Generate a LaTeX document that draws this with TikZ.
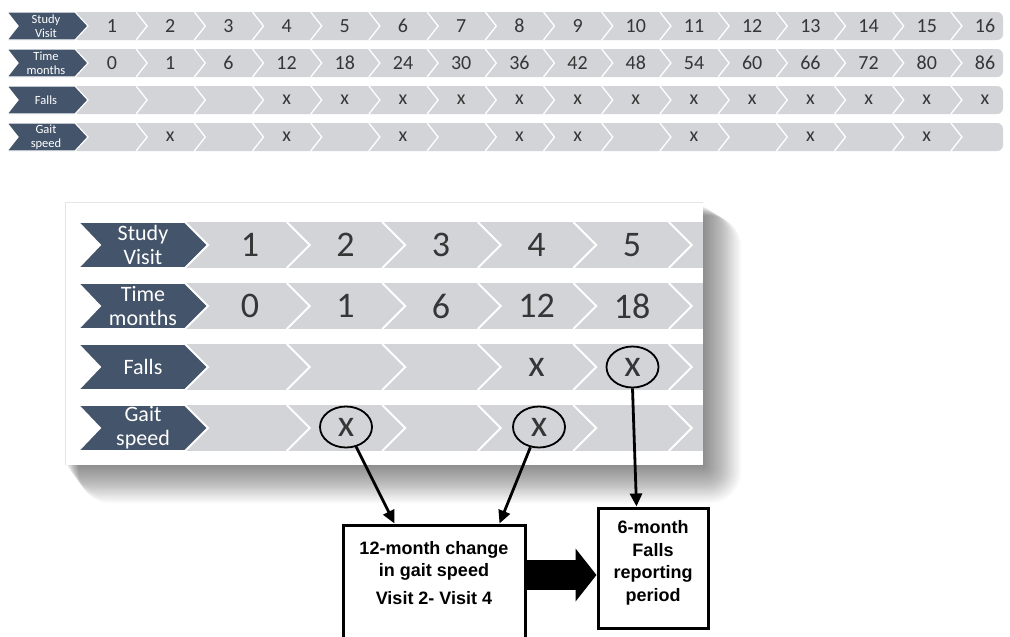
\documentclass[tikz,border=0pt]{standalone}
\usepackage{fontspec}
\setmainfont{Carlito}
\newfontfamily\boxfont{Liberation Sans}
\usetikzlibrary{shapes.geometric,arrows.meta}
\definecolor{navy}{HTML}{44546A}
\definecolor{band}{HTML}{D2D4D8}
\definecolor{numc}{HTML}{363636}
\tikzset{
  labshape/.style={fill=navy, draw=white, line width=1.2pt, line join=miter},
  sepline/.style={draw=white, line width=1.3pt},
  labtop/.style={text=white, font=\fontsize{12.5}{13.5}\selectfont, align=center, inner sep=0pt},
  labbig/.style={text=white, font=\fontsize{22}{24}\selectfont, align=center, inner sep=0pt},
  numtop/.style={text=numc, font=\fontsize{20}{24}\selectfont, inner sep=0pt},
  numbig/.style={text=numc, font=\fontsize{36}{40}\selectfont, inner sep=0pt},
  xbig/.style={text=numc, font=\fontsize{38}{40}\selectfont, inner sep=0pt},
  ring/.style={xbig, ellipse, draw=black, line width=1.8pt, minimum width=52pt, minimum height=41pt},
  conn/.style={draw=black, line width=2.8pt, -{Triangle[length=13pt,width=12pt]}},
  outbox/.style={draw=black, line width=3pt, fill=white, inner sep=0pt},
  boxtxt/.style={font=\boxfont\bfseries\fontsize{18}{22.5}\selectfont, align=center, inner sep=0pt},
}
\begin{document}
\begin{tikzpicture}[x=1pt,y=-1pt]
\useasboundingbox (0,0) rectangle (1010,637);
\clip (0,0) rectangle (1010,637);
\fill[white] (0,0) rectangle (1010,637);

% ---------- top table ----------
\foreach \yc in {26,63,100,137}{
  \fill[band, rounded corners=6pt] (72,{\yc-14}) rectangle (1003,{\yc+14});
  \foreach \k in {0,...,14}{
    \draw[sepline] ({141.1+\k*58.2-5},{\yc-14}) -- ({141.1+\k*58.2+6},\yc) -- ({141.1+\k*58.2-5},{\yc+14});
  }
  \draw[labshape] (7,{\yc-14}) -- (75,{\yc-14}) -- (88,\yc) -- (75,{\yc+14}) -- (7,{\yc+14}) -- (18,\yc) -- cycle;
}
\node[labtop] (tl1) at (46,26) {Study\\Visit};
\node[labtop] (tl2) at (46,63) {Time\\months};
\node[labtop] (tl3) at (46,100) {Falls};
\node[labtop] (tl4) at (46,137) {Gait\\speed};
\foreach \v [count=\i from 0] in {1,...,16}
  \node[numtop] (tv\v) at ({112+\i*58.2},26) {\v};
\foreach \t [count=\i from 0] in {0,1,6,12,18,24,30,36,42,48,54,60,66,72,80,86}
  \node[numtop] (tt\i) at ({112+\i*58.2},63) {\t};
\foreach \v in {4,...,16}
  \node[numtop] (tf\v) at ({112+(\v-1)*58.2},100) {x};
\foreach \v in {2,4,6,8,9,11,13,15}
  \node[numtop] (tg\v) at ({112+(\v-1)*58.2},137) {x};

% ---------- zoom panel ----------
\foreach \s in {1,...,32}{
  \fill[black, opacity=0.017, rounded corners=\s pt] ({66+\s*0.4},{206+\s*0.3}) rectangle ({703+\s*1.2},{465+\s*1.2});
}
\fill[white] (65,202) rectangle (703,465);
\draw[black!10, line width=0.6pt] (65,465) -- (65,202) -- (703,202);

\foreach \yc in {245,306,367,428}{
  \fill[band] (180,{\yc-23}) rectangle (703,{\yc+23});
  \foreach \k in {0,...,4}{
    \draw[sepline, line width=1.8pt] ({297.75+\k*95.5-11},{\yc-23}) -- ({297.75+\k*95.5+12},\yc) -- ({297.75+\k*95.5-11},{\yc+23});
  }
  \draw[labshape, line width=1.8pt] (78,{\yc-23}) -- (185,{\yc-23}) -- (208,\yc) -- (185,{\yc+23}) -- (78,{\yc+23}) -- (100,\yc) -- cycle;
}
\node[labbig] (pl1) at (143,245) {Study\\Visit};
\node[labbig] (pl2) at (143,306) {Time\\months};
\node[labbig] (pl3) at (143,367) {Falls};
\node[labbig] (pl4) at (143,428) {Gait\\speed};
\foreach \v [count=\i from 0] in {1,...,5}
  \node[numbig] (pv\v) at ({250+\i*95.5},245) {\v};
\foreach \t [count=\i from 0] in {0,1,6,12,18}
  \node[numbig] (pt\i) at ({250+\i*95.5},306) {\t};
\node[xbig] (pf4) at (536.5,367) {x};
\node[ring] (rf5) at (632.5,367) {x};
\node[ring] (rg2) at (346,427) {x};
\node[ring] (rg4) at (539,427) {x};

% ---------- boxes ----------
\node[outbox, minimum width=182pt, minimum height=220pt] (lbox) at (434,635) {};
\node[outbox, minimum width=110pt, minimum height=120pt] (rbox) at (653,568) {};
\node[boxtxt] (ltxt) at (434,573) {12-month change\\in gait speed\\[5pt]Visit 2- Visit 4};
\node[boxtxt] (rtxt) at (653,563) {6-month\\Falls\\reporting\\period};

\coordinate (bstart) at (524,575);
\draw[line width=30pt, -{Triangle[length=21pt,width=52pt]}] (bstart) -- (bstart -| rbox.west);

\draw[conn] (rg2.-63) -- ([xshift=53pt]lbox.north west);
\draw[conn] (rg4.-113) -- ([xshift=158pt]lbox.north west);
\draw[conn] (rf5.south) -- ([xshift=40pt]rbox.north west);
\end{tikzpicture}
\end{document}
